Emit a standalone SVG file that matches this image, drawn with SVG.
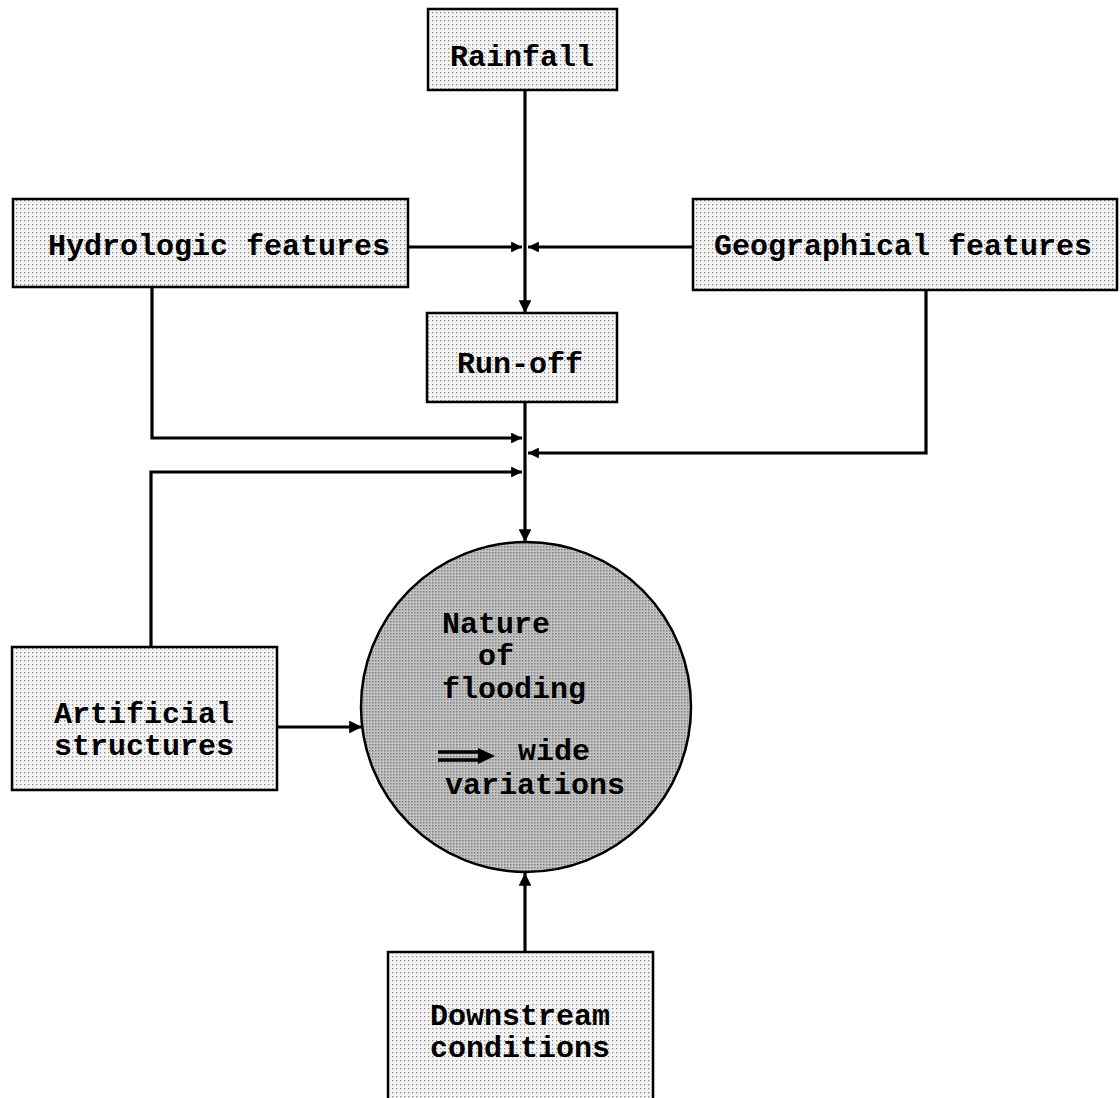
<svg xmlns="http://www.w3.org/2000/svg" width="1120" height="1098" viewBox="0 0 1120 1098">
<style>
.box{fill:url(#dots);stroke:#000;stroke-width:2.5}
.t{font-family:"Liberation Mono","Courier New",monospace;font-weight:bold;font-size:30px;fill:#000}
.c{text-anchor:middle}
.ln{fill:none;stroke:#000;stroke-width:3.2}
</style>
<defs>
<pattern id="dots" width="4" height="4" patternUnits="userSpaceOnUse">
<rect width="4" height="4" fill="#f4f4f4"/>
<rect width="1.3" height="1.3" fill="#8a8a8a"/>
</pattern>
<pattern id="dense" width="3" height="3" patternUnits="userSpaceOnUse">
<rect width="3" height="3" fill="#c4c4c4"/>
<rect width="1.5" height="1.5" fill="#7e7e7e"/>
</pattern>
<marker id="ah" viewBox="0 0 10 10" refX="10" refY="5" markerWidth="5" markerHeight="4" orient="auto" markerUnits="strokeWidth">
<path d="M0,0 L10,5 L0,10 z" fill="#000"/>
</marker>
<marker id="as" viewBox="0 0 10 10" refX="10" refY="5" markerWidth="4" markerHeight="3.4" orient="auto" markerUnits="strokeWidth">
<path d="M0,0 L10,5 L0,10 z" fill="#000"/>
</marker>
</defs>

<g id="connectors">
<path class="ln" d="M525,90 V313" marker-end="url(#ah)"/>
<path class="ln" d="M408,247 H522" marker-end="url(#as)"/>
<path class="ln" d="M693,247 H528" marker-end="url(#as)"/>
<path class="ln" d="M152,287 V438 H522" marker-end="url(#as)"/>
<path class="ln" d="M926,290 V453 H528" marker-end="url(#as)"/>
<path class="ln" d="M151,647 V472 H522" marker-end="url(#as)"/>
<path class="ln" d="M525,402 V542" marker-end="url(#ah)"/>
<path class="ln" d="M277,727 H362" marker-end="url(#ah)"/>
<path class="ln" d="M525,952 V873" marker-end="url(#ah)"/>
</g>

<g id="rainfall">
<rect class="box" x="428" y="9" width="189" height="81"/>
<text class="t c" x="522" y="66">Rainfall</text>
</g>

<g id="hydrologic">
<rect class="box" x="13" y="199" width="395" height="88"/>
<text class="t c" x="219" y="255">Hydrologic features</text>
</g>

<g id="geographical">
<rect class="box" x="693" y="199" width="424" height="91"/>
<text class="t c" x="903" y="255">Geographical features</text>
</g>

<g id="runoff">
<rect class="box" x="427" y="313" width="190" height="89"/>
<text class="t c" x="520" y="373">Run-off</text>
</g>

<g id="artificial">
<rect class="box" x="12" y="647" width="265" height="143"/>
<text class="t c" x="144" y="723">Artificial</text>
<text class="t c" x="144" y="755">structures</text>
</g>

<g id="flooding">
<circle cx="526" cy="707" r="165" fill="url(#dense)" stroke="#000" stroke-width="2.5"/>
<text class="t" x="442" y="633">Nature</text>
<text class="t" x="478" y="665">of</text>
<text class="t" x="442" y="698">flooding</text>
<path d="M438,752 H482 M438,760 H482" stroke="#000" stroke-width="3.5" fill="none"/>
<path d="M478,748 L495,756 L478,764 z" fill="#000"/>
<text class="t" x="518" y="760">wide</text>
<text class="t" x="445" y="794">variations</text>
</g>

<g id="downstream">
<rect class="box" x="388" y="952" width="265" height="150"/>
<text class="t c" x="520" y="1025">Downstream</text>
<text class="t c" x="520" y="1057">conditions</text>
</g>
</svg>
